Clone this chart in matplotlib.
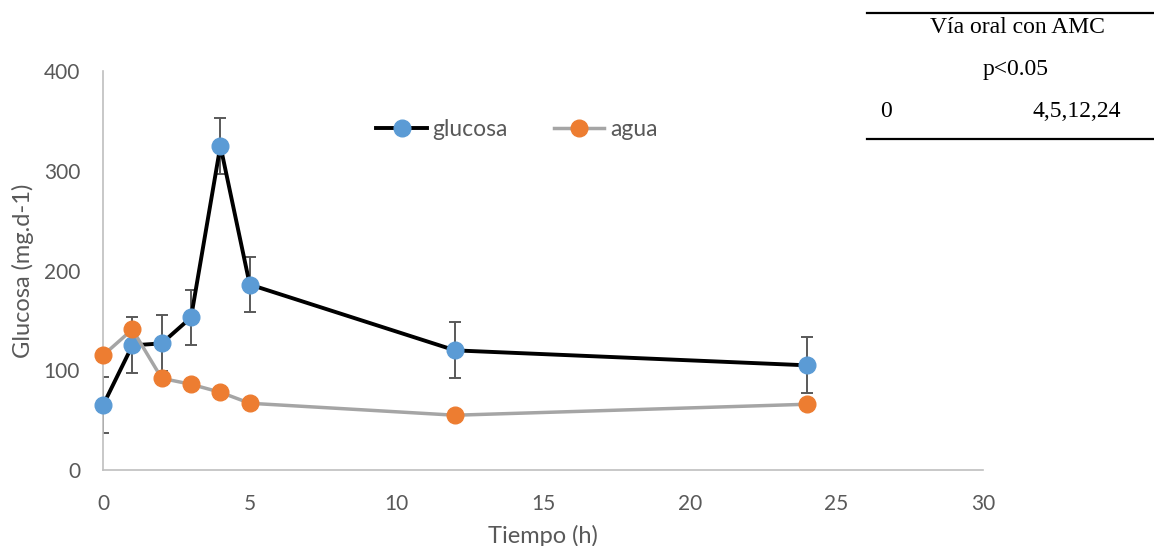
import matplotlib
matplotlib.use("Agg")
import matplotlib.pyplot as plt
from matplotlib.lines import Line2D

# datos
tiempo = [0, 1, 2, 3, 4, 5, 12, 24]
glucosa = [65, 125, 127, 153, 325, 186, 120, 105]
glucosa_err = [28, 28, 28, 28, 28, 28, 28, 28]
agua = [115, 141, 92, 86, 78, 67, 55, 66]

x_ticks = [0, 5, 10, 15, 20, 25, 30]
y_ticks = [0, 100, 200, 300, 400]

gris_txt = '#595959'
azul = '#5b9bd5'
naranja = '#ed7d31'

plt.rcParams['font.family'] = ['Lato', 'DejaVu Sans']

fig = plt.figure(figsize=(11.54, 5.46), dpi=100)
ax = fig.add_axes([0.0893, 0.139, 0.7626, 0.731])

ax.errorbar(tiempo, glucosa, yerr=glucosa_err, fmt='none', ecolor='#595959',
            elinewidth=1.4, capsize=4.5, capthick=1.4, zorder=2)
ax.plot(tiempo, glucosa, color='black', lw=2.8, marker='o', ms=12,
        mfc=azul, mec=azul, zorder=3, label='glucosa', clip_on=False)
ax.plot(tiempo, agua, color='#a5a5a5', lw=2.5, marker='o', ms=12,
        mfc=naranja, mec=naranja, zorder=4, label='agua', clip_on=False)

ax.set_xlim(0, 30)
ax.set_ylim(0, 400)
ax.set_xticks(x_ticks)
ax.set_yticks(y_ticks)
ax.tick_params(length=0, labelsize=15, colors=gris_txt)
ax.tick_params(axis='x', pad=17)
ax.tick_params(axis='y', pad=16.5)
for s in ['top', 'right']:
    ax.spines[s].set_visible(False)
for s in ['left', 'bottom']:
    ax.spines[s].set_color('#bfbfbf')
    ax.spines[s].set_linewidth(1.2)

ax.set_xlabel('Tiempo (h)', fontsize=17, color=gris_txt, labelpad=8)
ax.set_ylabel('Glucosa (mg.d-1)', fontsize=17, color=gris_txt, labelpad=7)

h1 = Line2D([], [], color='black', lw=2.8, marker='o', ms=12, mfc=azul, mec=azul)
h2 = Line2D([], [], color='#a5a5a5', lw=2.5, marker='o', ms=12, mfc=naranja, mec=naranja)
leg = fig.legend([h1, h2], ['glucosa', 'agua'], loc='center', ncol=2,
                 bbox_to_anchor=(0.448, 0.762), frameon=False, fontsize=16.5,
                 handlelength=2.2, columnspacing=2.0, handletextpad=0.25)
for t in leg.get_texts():
    t.set_color(gris_txt)

# tabla de la derecha
serif = 'Liberation Serif'
fig.add_artist(Line2D([0.751, 1.0], [0.976, 0.976], color='black', lw=1.6))
fig.add_artist(Line2D([0.751, 1.0], [0.745, 0.745], color='black', lw=1.6))
fig.text(0.882, 0.949, 'Vía oral con AMC', family=serif, fontsize=17, ha='center', va='center')
fig.text(0.880, 0.872, 'p<0.05', family=serif, fontsize=17, ha='center', va='center')
fig.text(0.768, 0.795, '0', family=serif, fontsize=17, ha='center', va='center')
fig.text(0.933, 0.795, '4,5,12,24', family=serif, fontsize=17, ha='center', va='center')

fig.savefig('out.png', dpi=100)
